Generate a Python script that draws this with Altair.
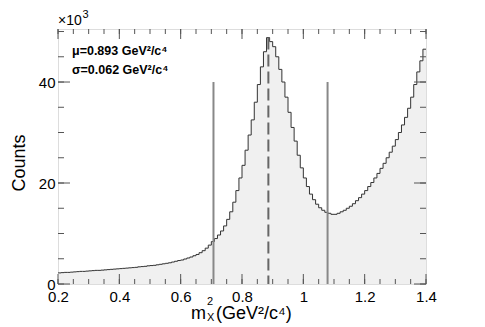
import altair as alt
import pandas as pd

# ---- data (counts in units of 10^3) ----
bin_left = [round(0.20 + 0.01 * i, 2) for i in range(120)]
counts_k = [
    2.2, 2.25, 2.3, 2.3, 2.35, 2.4, 2.45, 2.5, 2.5, 2.55,
    2.6, 2.65, 2.7, 2.7, 2.75, 2.8, 2.85, 2.9, 2.95, 3.0,
    3.05, 3.1, 3.15, 3.2, 3.25, 3.3, 3.4, 3.45, 3.5, 3.6,
    3.65, 3.7, 3.8, 3.9, 4.0, 4.1, 4.2, 4.35, 4.5, 4.65,
    4.75, 4.95, 5.15, 5.35, 5.6, 5.85, 6.2, 6.6, 7.1, 7.7,
    8.4, 9.0, 9.7, 10.5, 11.5, 12.8, 14.3, 16.2, 18.5, 21.0,
    23.5, 26.5, 29.5, 32.5, 36.0, 39.5, 43.0, 46.0, 48.8, 48.0,
    47.0, 45.0, 42.5, 40.0, 37.0, 34.0, 31.0, 28.3, 25.5, 23.0,
    21.0, 19.3, 17.8, 16.7, 15.8, 15.1, 14.6, 14.2, 14.0, 13.8,
    13.8, 14.0, 14.3, 14.6, 15.0, 15.4, 15.9, 16.5, 17.1, 17.8,
    18.5, 19.3, 20.1, 21.0, 21.9, 22.9, 23.9, 25.0, 26.1, 27.3,
    28.6, 30.0, 31.5, 33.0, 34.8, 37.0, 39.5, 42.0, 44.2, 46.5,
]
x_end = 1.40

cut_x = [0.707, 1.079]
cut_top = [40.0, 40.0]
mean_x = [0.886]
mean_top = [48.8]

x_major = [0.2, 0.4, 0.6, 0.8, 1.0, 1.2, 1.4]
x_minor = [round(0.2 + 0.05 * i, 2) for i in range(25)]
y_major = [0, 20, 40]
y_minor = [5 * i for i in range(11)]

W, H = 368, 255
FONT = "Liberation Sans"

hist = pd.DataFrame({"x": bin_left + [x_end], "y": counts_k + [counts_k[-1]]})

xs = alt.Scale(domain=[0.2, 1.4], nice=False, zero=False)
ys = alt.Scale(domain=[0, 50.5], nice=False)

xax = alt.Axis(values=x_major, format="~g", ticks=False, domain=False, grid=False,
               labelFontSize=15, labelFont=FONT, labelColor="black", labelPadding=5,
               labelFlush=False, labelOverlap=False, title=None)
yax = alt.Axis(values=y_major, format="d", ticks=False, domain=False, grid=False,
               labelFontSize=15, labelFont=FONT, labelColor="black", labelPadding=3,
               labelFlush=False, labelOverlap=False, title=None)

base = alt.Chart(hist)
area = base.mark_area(interpolate="step-after", color="#f0f0f0").encode(
    x=alt.X("x:Q", scale=xs, axis=xax),
    y=alt.Y("y:Q", scale=ys, axis=yax),
)
line = base.mark_line(interpolate="step-after", color="#333333", strokeWidth=1).encode(
    x=alt.X("x:Q", scale=xs), y=alt.Y("y:Q", scale=ys)
)

cuts = alt.Chart(pd.DataFrame({"x": cut_x, "top": cut_top})).mark_rule(
    color="#888888", strokeWidth=2
).encode(x=alt.X("x:Q", scale=xs), y=alt.Y("top:Q", scale=ys), y2=alt.value(H))

mean = alt.Chart(pd.DataFrame({"x": mean_x, "top": mean_top})).mark_rule(
    color="#666666", strokeWidth=2, strokeDash=[12, 5]
).encode(x=alt.X("x:Q", scale=xs), y=alt.Y("top:Q", scale=ys), y2=alt.value(H))

# inward ticks on all four sides
tick_col = "#555555"
def xt(vals, ln):
    d = alt.Chart(pd.DataFrame({"v": vals}))
    b = d.mark_rule(color=tick_col, strokeWidth=1).encode(
        x=alt.X("v:Q", scale=xs), y=alt.value(H), y2=alt.value(H - ln))
    t = d.mark_rule(color=tick_col, strokeWidth=1).encode(
        x=alt.X("v:Q", scale=xs), y=alt.value(0), y2=alt.value(ln))
    return b + t

def yt(vals, ln):
    d = alt.Chart(pd.DataFrame({"v": vals}))
    l = d.mark_rule(color=tick_col, strokeWidth=1).encode(
        y=alt.Y("v:Q", scale=ys), x=alt.value(0), x2=alt.value(ln))
    r = d.mark_rule(color=tick_col, strokeWidth=1).encode(
        y=alt.Y("v:Q", scale=ys), x=alt.value(W), x2=alt.value(W - ln))
    return l + r

ticks = xt(x_minor, 5) + xt(x_major, 10) + yt(y_minor, 6) + yt(y_major, 12)

def txt(s, x, y, size, weight="normal", angle=0, align="left", baseline="alphabetic"):
    return alt.Chart(pd.DataFrame({"t": [s]})).mark_text(
        font=FONT, fontSize=size, fontWeight=weight, color="black",
        align=align, baseline=baseline, angle=angle
    ).encode(text="t:N", x=alt.value(x), y=alt.value(y))

labels = (
    txt("μ=0.893 GeV²/c⁴", 14, 26, 12.5, "bold")
    + txt("σ=0.062 GeV²/c⁴", 14, 45, 12.5, "bold")
    + txt("×10", 0, -4, 14)
    + txt("3", 24.5, -11, 11)
    + txt("Counts", -38, 134, 18, angle=270, align="center", baseline="middle")
    + txt("m", 133, 290, 18)
    + txt("2", 149, 276, 11)
    + txt("X", 149, 292, 11)
    + txt("(GeV²/c⁴)", 158, 290, 18)
)

chart = alt.layer(area, line, cuts, mean, ticks, labels).properties(
    width=W, height=H,
    autosize=alt.AutoSizeParams(type="none"),
    padding={"left": 50, "top": 21, "right": 51, "bottom": 42},
).configure_view(stroke="#555555", strokeWidth=2).configure(background="white")

chart.save("out.html", embed_options={"renderer": "svg", "actions": False})
